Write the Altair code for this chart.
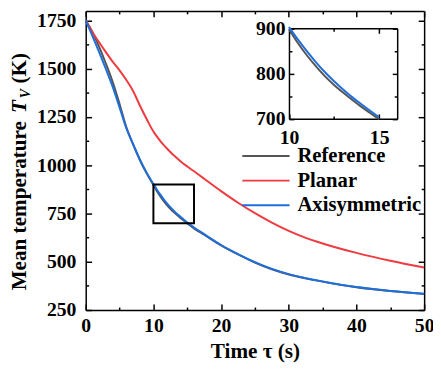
import altair as alt
import pandas as pd

# ---------------- data ----------------
t = [0, 1, 2, 3, 4, 5, 6, 7, 8, 9,
     10, 10.5, 11, 11.5, 12, 12.5, 13, 13.5, 14, 14.5, 15, 15.5, 16,
     17.5, 20, 22.5, 25, 27.5, 30, 32.5, 35, 40, 45, 50]
reference = [1750, 1690, 1612, 1525, 1430, 1318, 1198, 1108, 1027, 958,
             898, 867, 840, 816, 794, 775, 758, 742, 727, 713, 699, 686, 673,
             640, 585, 538, 496, 461, 434, 414, 397, 368, 348, 333]
planar = [1750, 1690, 1636, 1585, 1536, 1492, 1442, 1385, 1310, 1240,
          1175, 1150, 1127, 1106, 1087, 1069, 1052, 1036, 1021, 1007, 994, 981, 969,
          930, 866, 806, 752, 703, 660, 624, 595, 546, 505, 470]
axisymmetric = [1750, 1670, 1585, 1497, 1405, 1300, 1192, 1110, 1030, 962,
                903, 875, 849, 825, 803, 783, 765, 748, 733, 718, 704, 691, 678,
                643, 587, 540, 498, 463, 436, 415, 398, 369, 349, 334]

series_names = ["Reference", "Planar", "Axisymmetric"]
series_colors = ["#555555", "#EF3B3F", "#1E6FDC"]

x_domain = [0, 50]
y_domain = [250, 1800]
x_ticks = [0, 5, 10, 15, 20, 25, 30, 35, 40, 45, 50]
y_ticks = [250, 375, 500, 625, 750, 875, 1000, 1125, 1250, 1375, 1500, 1625, 1750]

inset_x = [10, 16]
inset_y = [700, 900]
inset_x_ticks = [10, 12.5, 15]
inset_y_ticks = [700, 750, 800, 850, 900]

x_title = "Time τ (s)"
y_title_parts = ["Mean temperature", "T", "V", "(K)"]

# ---------------- build tables ----------------
rows = []
for name, vals in zip(series_names, [reference, planar, axisymmetric]):
    for ti, v in zip(t, vals):
        rows.append({"t": ti, "T": v, "series": name})
df = pd.DataFrame(rows)
box_df = pd.DataFrame({"x": [inset_x[0]], "x2": [inset_x[1]],
                       "y": [inset_y[0]], "y2": [inset_y[1]]})

W, H = 344, 304
FONT = "Liberation Serif"

# inset placement inside the plot area (pixels)
IX0, IX1 = 206.6, 316.6
IY0, IY1 = 109.7, 17.7


def ax(orient, values, test, major, minor, labels=True, **kw):
    return alt.Axis(
        orient=orient, values=values, grid=False, format="d",
        domain=True, domainColor="black", domainWidth=1.5,
        ticks=True, tickColor="black", tickWidth=1.5,
        tickSize=alt.ExprRef(expr=f"({test}) ? -{major} : -{minor}"),
        labels=labels, labelExpr=f"({test}) ? datum.label : ''",
        labelFont=FONT, labelFontWeight="bold", labelFontSize=20,
        labelColor="black", labelFlush=False, labelOverlap=False,
        **kw,
    )


color_enc = alt.Color(
    "series:N",
    scale=alt.Scale(domain=series_names, range=series_colors),
    legend=alt.Legend(
        orient="none", legendX=172.7, legendY=137, title=None,
        direction="vertical", symbolType="M-4,0H4", symbolSize=144,
        symbolStrokeWidth=2, labelFont=FONT, labelFontWeight="bold",
        labelFontSize=21, labelColor="black", labelOffset=21.5,
        rowPadding=3, padding=0, symbolOffset=0, labelLimit=0,
    ),
)

main = alt.Chart(df).mark_line(strokeWidth=2, interpolate="monotone").encode(
    x=alt.X("t:Q", scale=alt.Scale(domain=x_domain, nice=False, zero=False),
            axis=ax("bottom", x_ticks, "datum.value % 10 === 0", 6, 3,
                    labelPadding=12, title=x_title, titleFont=FONT,
                    titleFontWeight="bold", titleFontSize=21.5,
                    titleColor="black", titlePadding=2)),
    y=alt.Y("T:Q", scale=alt.Scale(domain=y_domain, nice=False, zero=False),
            axis=ax("left", y_ticks, "datum.value % 250 === 0", 6, 3,
                    labelPadding=16, title=None)),
    color=color_enc,
)

box = alt.Chart(box_df).mark_rect(fillOpacity=0, stroke="black", strokeWidth=2).encode(
    x=alt.X("x:Q", scale=alt.Scale(domain=x_domain, nice=False, zero=False),
            axis=ax("top", x_ticks, "datum.value % 10 === 0", 6, 3,
                    labels=False, title=None)),
    x2="x2:Q",
    y=alt.Y("y:Q", scale=alt.Scale(domain=y_domain, nice=False, zero=False),
            axis=ax("right", y_ticks, "datum.value % 250 === 0", 6, 3,
                    labels=False, title=None)),
    y2="y2:Q",
)

inset_xs = alt.Scale(domain=inset_x, range=[IX0, IX1], nice=False, zero=False)
inset_ys = alt.Scale(domain=inset_y, range=[IY0, IY1], nice=False, zero=False)

inset = alt.Chart(df).transform_filter(
    "datum.t >= 10 && datum.t <= 16 && datum.T >= 698 && datum.T <= 905"
).mark_line(strokeWidth=2, interpolate="monotone").encode(
    x=alt.X("t:Q", scale=inset_xs,
            axis=ax("bottom", inset_x_ticks, "datum.value % 5 === 0", 5, 3,
                    labelPadding=14, title=None, offset=-(H - IY0))),
    y=alt.Y("T:Q", scale=inset_ys,
            axis=ax("left", inset_y_ticks, "datum.value % 100 === 0", 5, 3,
                    labelPadding=9, title=None, offset=-IX0)),
    color=color_enc,
)

inset_frame = alt.Chart(box_df).mark_rect(opacity=0).encode(
    x=alt.X("x:Q", scale=inset_xs,
            axis=ax("top", inset_x_ticks, "datum.value % 5 === 0", 5, 3,
                    labels=False, title=None, offset=-IY1)),
    x2="x2:Q",
    y=alt.Y("y:Q", scale=inset_ys,
            axis=ax("right", inset_y_ticks, "datum.value % 100 === 0", 5, 3,
                    labels=False, title=None, offset=-(W - IX1))),
    y2="y2:Q",
)


def ytext(txt, x, y, size, style):
    return alt.Chart(pd.DataFrame({"s": [txt]})).mark_text(
        angle=270, align="left", baseline="middle", font=FONT,
        fontWeight="bold", fontStyle=style, fontSize=size, color="black",
    ).encode(x=alt.value(x), y=alt.value(y), text="s:N")


texts = [
    ytext(y_title_parts[0], -67, 284, 21.5, "normal"),
    ytext(y_title_parts[1], -67, 103.7, 21.5, "italic"),
    ytext(y_title_parts[2], -61, 88.7, 14, "italic"),
    ytext(y_title_parts[3], -67, 73.7, 21.5, "normal"),
]

chart = alt.layer(main, box, inset, inset_frame, *texts).resolve_scale(
    x="independent", y="independent"
).resolve_axis(
    x="independent", y="independent"
).properties(
    width=W, height=H,
    autosize=alt.AutoSizeParams(type="none"),
    padding={"left": 79, "top": 0, "right": 9, "bottom": 58},
).configure_view(stroke=None)

chart.save("out.html", embed_options={"renderer": "svg", "actions": False})
